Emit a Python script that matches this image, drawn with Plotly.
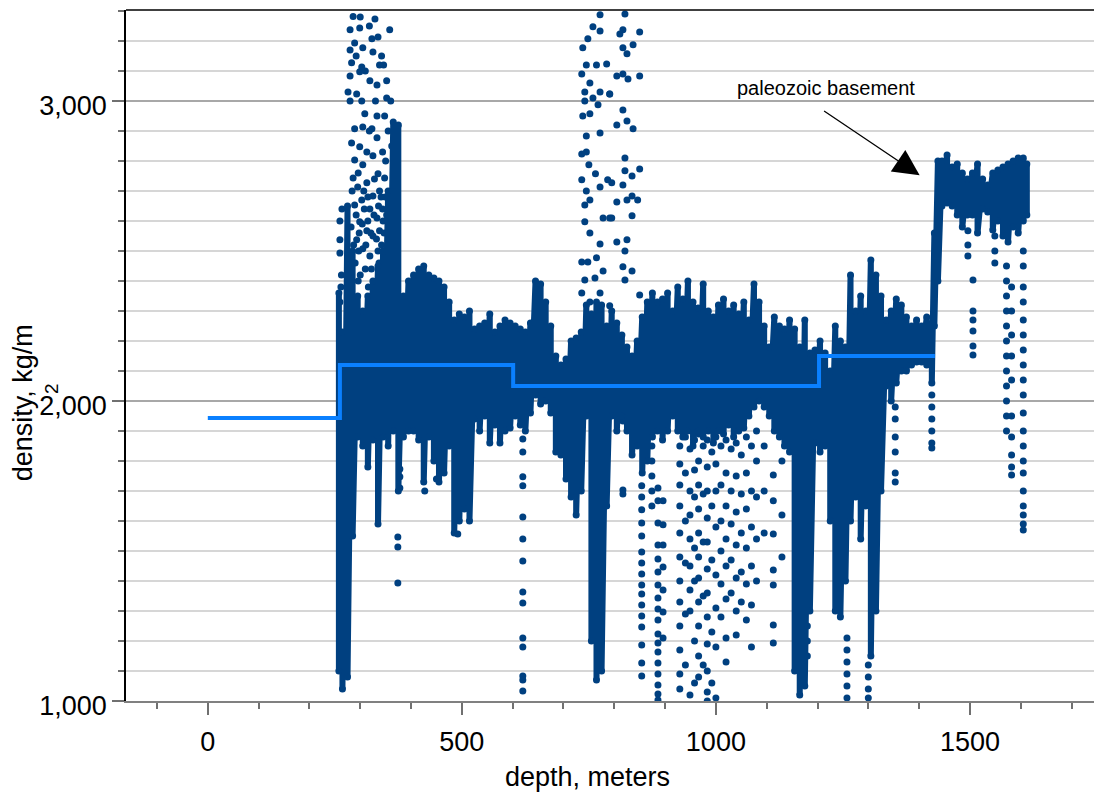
import plotly.graph_objects as go

# ---------------- data ----------------
# dense part of the density log: per depth, upper and lower edge of the dense cloud
core_depth = [258, 265, 275, 285, 295, 305, 315, 325, 335, 345, 355, 365, 375, 385, 395, 405, 415, 425,
              435, 445, 455, 465, 475, 485, 495, 505, 515, 525, 535, 545, 555, 565, 575, 585, 595, 605,
              615, 625, 635, 645, 655, 665, 675, 685, 695, 705, 715, 725, 735, 745, 755, 765, 775, 785,
              795, 805, 815, 825, 835, 845, 855, 865, 875, 885, 895, 905, 915, 925, 935, 945, 955, 965,
              975, 985, 995, 1005, 1015, 1025, 1035, 1045, 1055, 1065, 1075, 1085, 1095, 1105, 1115,
              1125, 1135, 1145, 1155, 1165, 1175, 1185, 1195, 1205, 1215, 1225, 1235, 1245, 1255, 1265,
              1275, 1285, 1295, 1305, 1315, 1325, 1335, 1345, 1355, 1365, 1375, 1385, 1395, 1405, 1415,
              1425, 1430, 1437, 1445, 1455, 1465, 1475, 1485, 1495, 1505, 1515, 1525, 1535, 1545, 1555,
              1565, 1575, 1585, 1595, 1605, 1612]
core_top = [2360, 2230, 2650, 2500, 2350, 2300, 2350, 2400, 2450, 2500, 2700, 2930, 2920, 2350, 2400, 2420,
            2440, 2450, 2420, 2410, 2400, 2380, 2330, 2270, 2290, 2280, 2300, 2240, 2250, 2260, 2290, 2230,
            2250, 2270, 2260, 2250, 2240, 2230, 2260, 2400, 2390, 2330, 2250, 2150, 2120, 2140, 2200, 2210,
            2230, 2320, 2290, 2330, 2320, 2250, 2300, 2260, 2220, 2180, 2150, 2200, 2280, 2330, 2360, 2330,
            2340, 2360, 2300, 2380, 2340, 2400, 2330, 2310, 2390, 2300, 2280, 2320, 2340, 2300, 2320, 2290,
            2330, 2270, 2390, 2330, 2250, 2180, 2280, 2250, 2240, 2270, 2240, 2180, 2270, 2160, 2170, 2200,
            2160, 2100, 2250, 2200, 2180, 2420, 2300, 2350, 2300, 2470, 2420, 2350, 2270, 2300, 2340, 2320,
            2280, 2250, 2270, 2250, 2280, 2260, 2560, 2800, 2800, 2820, 2780, 2790, 2760, 2740, 2760, 2790,
            2740, 2720, 2760, 2770, 2780, 2790, 2800, 2810, 2810, 2790]
core_bottom = [1100, 1040, 1080, 1550, 1880, 1850, 1780, 1870, 1590, 1880, 1850, 1900, 1700, 1880, 1900,
               1900, 1870, 1730, 1880, 1800, 1730, 1760, 1850, 1560, 1600, 1640, 1600, 1940, 1900, 1950,
               1860, 1920, 1860, 1900, 1910, 1950, 1920, 1900, 1960, 2020, 1990, 2000, 1960, 1830, 1820,
               1740, 1680, 1620, 1700, 1950, 1200, 1070, 1100, 1650, 1950, 1900, 1950, 1900, 1820, 1850,
               1760, 1800, 1880, 1900, 1870, 1900, 1950, 1900, 1880, 1900, 1850, 1900, 1880, 1900, 1860,
               1900, 1890, 1920, 1880, 1900, 1910, 1950, 1980, 2000, 1980, 1950, 1900, 1880, 1850, 1830,
               1100, 1020, 1050, 1300, 1860, 1830, 1850, 1600, 1300, 1280, 1400, 1600, 1680, 1540, 1650,
               1150, 1300, 1700, 2050, 2000, 2060, 2100, 2100, 2120, 2130, 2130, 2120, 2060, 2250, 2400,
               2650, 2660, 2650, 2620, 2580, 2620, 2620, 2560, 2640, 2630, 2570, 2600, 2550, 2530, 2580,
               2560, 2600, 2620]

# isolated readings (depth, density)
scattered_points = [
    (286, 3281), (280, 3237), (329, 3273), (358, 3237), (299, 3243), (323, 3207), (335, 3213),
    (280, 3170), (289, 3193), (305, 3177), (325, 3163), (342, 3150), (283, 3127), (303, 3113),
    (338, 3120), (280, 3083), (299, 3097), (319, 3067), (352, 3067), (276, 3030), (293, 3023),
    (333, 3053), (352, 3010), (303, 3000), (280, 3000), (309, 2957), (333, 2950), (348, 2950),
    (289, 2907), (305, 2913), (323, 2907), (333, 2877), (283, 2860), (299, 2847), (313, 2830),
    (325, 2817), (344, 2830), (289, 2803), (305, 2787), (335, 2757), (348, 2743), (286, 2743),
    (295, 2713), (313, 2727), (325, 2683), (338, 2700), (303, 2670), (289, 2653), (319, 2640),
    (344, 2640), (333, 2610), (299, 2597), (313, 2567), (325, 2550), (338, 2567), (293, 2537),
    (305, 2507), (319, 2483), (335, 2500), (264, 2640), (260, 2600), (260, 2537), (260, 2493),
    (263, 2420), (262, 2380), (260, 2330), (290, 2460), (300, 2420), (310, 2440), (330, 2380),
    (345, 2600), (350, 2800), (355, 2900), (360, 3000), (362, 2850), (368, 2700), (350, 2450),
    (340, 2420), (316, 2380), (296, 2400), (308, 2640), (296, 2760), (318, 2900), (330, 3000),
    (310, 3100), (292, 3150), (300, 3280), (318, 3250), (346, 3120),
    (282, 2580), (287, 2520), (292, 2620), (298, 2560), (304, 2590), (311, 2520), (315, 2600),
    (321, 2560), (327, 2620), (332, 2540), (337, 2460), (342, 2520), (347, 2560), (352, 2620),
    (284, 2700), (307, 2700), (328, 2740), (341, 2680), (315, 2680), (297, 2500), (322, 2440),
    (336, 2650), (349, 2680), (357, 2580), (361, 2500), (366, 2620), (370, 2560),
    (374, 1547), (374, 1513), (374, 1393), (378, 1773), (378, 1747), (378, 1710), (427, 1700),
    (450, 1807), (450, 1740), (492, 1557),
    (772, 3287), (758, 3247), (772, 3233), (748, 3207), (738, 3177), (745, 3120), (765, 3120),
    (785, 3123), (736, 3090), (752, 3060), (742, 3030), (772, 3030), (791, 3023), (742, 3000),
    (758, 3010), (768, 2987), (752, 2957), (738, 2950), (772, 2893), (745, 2883), (736, 2823),
    (745, 2830), (750, 2787), (763, 2757), (736, 2737), (772, 2713), (787, 2737), (745, 2700),
    (742, 2653), (752, 2670), (778, 2610), (791, 2610), (742, 2597), (752, 2560), (772, 2523),
    (736, 2463), (748, 2463), (765, 2477), (778, 2433), (742, 2403), (762, 2410), (736, 2360),
    (752, 2330), (772, 2360), (791, 2317),
    (821, 3290), (817, 3237), (850, 3230), (811, 3223), (837, 3187), (817, 3177), (825, 3157),
    (805, 3083), (817, 3090), (827, 3073), (850, 3083), (817, 2970), (805, 2920), (825, 2933),
    (837, 2907), (821, 2810), (850, 2773), (821, 2767), (835, 2750), (817, 2720), (805, 2663),
    (825, 2670), (846, 2670), (835, 2683), (835, 2617), (805, 2530), (825, 2537), (821, 2500),
    (817, 2447), (835, 2433), (821, 2403), (850, 2353), (795, 2610), (795, 2727), (791, 3023),
]

# sparse vertical streaks of readings: (depth, [densities])
sparse_streaks = [
    (620, [1873, 1830, 1747, 1717, 1613, 1540, 1467, 1363, 1327, 1210, 1180, 1083, 1070, 1033]),
    (817, [1933, 1703, 1690]),
    (854, [1717, 1680, 1637, 1593, 1550, 1497, 1460, 1423, 1387, 1357, 1320, 1283, 1247, 1187, 1127, 1083]),
    (874, [1850, 1800, 1750, 1700, 1650]),
    (886, [1710, 1667, 1593, 1520, 1473, 1430, 1387, 1343, 1307, 1270, 1223, 1193, 1163, 1127, 1090,
           1053, 1023, 1003]),
    (896, [1667, 1587, 1520, 1447, 1370, 1297, 1210]),
    (929, [1850, 1790, 1720, 1650, 1560, 1480, 1400, 1330, 1250, 1170, 1090, 1040]),
    (940, [1880, 1760, 1600, 1460, 1290, 1120]),
    (949, [1840, 1700, 1620, 1540, 1450, 1370, 1300, 1020]),
    (958, [1870, 1770, 1680, 1510, 1400, 1200, 1060]),
    (966, [1890, 1800, 1720, 1640, 1560, 1480, 1410, 1330, 1250, 1150, 1080]),
    (975, [1850, 1690, 1530, 1350, 1120]),
    (983, [1870, 1780, 1700, 1610, 1530, 1440, 1360, 1280, 1190, 1100, 1030, 1000]),
    (992, [1830, 1650, 1470, 1230, 1060]),
    (1000, [1880, 1790, 1700, 1580, 1420, 1310, 1180, 1010]),
    (1010, [1850, 1720, 1600, 1500, 1390, 1280]),
    (1020, [1870, 1760, 1650, 1540, 1450, 1340, 1210, 1130]),
    (1030, [1840, 1700, 1590, 1470, 1360]),
    (1040, [1860, 1750, 1630, 1520, 1410, 1300, 1220]),
    (1050, [1820, 1690, 1560, 1430, 1330]),
    (1060, [1880, 1760, 1640, 1510, 1390, 1270]),
    (1070, [1850, 1700, 1580, 1450, 1320, 1180]),
    (1080, [1900, 1800, 1680, 1540, 1400]),
    (1095, [1850, 1700, 1560]),
    (1113, [1753, 1667, 1557, 1437, 1387, 1253, 1193]),
    (1130, [1800, 1620, 1480]),
    (1180, [1250, 1200, 1150]),
    (1258, [1210, 1170, 1130, 1090, 1050, 1010]),
    (1300, [1120, 1080, 1040, 1010]),
    (1353, [1980, 1940, 1880, 1830, 1760, 1730]),
    (1425, [2020, 1980, 1940, 1900, 1860, 1843]),
    (1496, [2567, 2520, 2483]),
    (1506, [2403, 2300, 2270, 2233, 2183, 2153]),
    (1549, [2550, 2500, 2460]),
    (1572, [2450, 2400, 2350, 2300, 2250, 2200, 2150, 2100, 2050, 2000, 1950, 1900]),
    (1582, [2380, 2300, 2220, 2150, 2070, 1950, 1880, 1820, 1780, 1753]),
    (1605, [2500, 2450, 2380, 2330, 2270, 2220, 2170, 2120, 2070, 2020, 1960, 1900, 1850, 1800, 1760,
            1700, 1650, 1620, 1590, 1570]),
]

# layered density model (step line)
step_depth = [0, 260, 601, 1203, 1431]
step_density = [1943, 2120, 2050, 2150, 2150]

annotation_text = "paleozoic basement"
x_title = "depth, meters"
y_title = "density, kg/m"

# ---------------- figure ----------------
DOT = "#004080"
STEP = "#0a80ff"

zz_x, zz_y = [], []
for d, t, b in zip(core_depth, core_top, core_bottom):
    zz_x += [d, d]
    zz_y += [t, b]

sx = [p[0] for p in scattered_points]
sy = [p[1] for p in scattered_points]
for d, vals in sparse_streaks:
    for v in vals:
        sx.append(d)
        sy.append(v)

fig = go.Figure()
fig.add_trace(go.Scatter(x=sx, y=sy, mode="markers",
                         marker=dict(color=DOT, size=7, line=dict(width=0)),
                         hoverinfo="skip", showlegend=False))
fig.add_trace(go.Scatter(x=zz_x, y=zz_y, mode="lines+markers",
                         line=dict(color=DOT, width=6),
                         marker=dict(color=DOT, size=7, line=dict(width=0)),
                         hoverinfo="skip", showlegend=False))
fig.add_trace(go.Scatter(x=step_depth, y=step_density, mode="lines",
                         line=dict(color=STEP, width=4, shape="hv"),
                         hoverinfo="skip", showlegend=False))

FONT = "Liberation Sans, Arial, sans-serif"

# the page body adds an 8px margin, so the figure is 8px smaller in each direction
fig.update_layout(
    width=1094, height=786,
    margin=dict(l=118, r=2, t=2, b=93),
    paper_bgcolor="white", plot_bgcolor="white",
    font=dict(family=FONT, size=27, color="black"),
    showlegend=False,
)
fig.update_xaxes(
    range=[-161, 1756], showgrid=False, zeroline=False,
    showline=True, linecolor="#808080", linewidth=2,
    tickmode="linear", tick0=0, dtick=500,
    ticks="outside", ticklen=12, tickwidth=1.5, tickcolor="#707070",
    tickfont=dict(size=27, family=FONT), ticklabelstandoff=4,
    minor=dict(dtick=100, ticks="outside", ticklen=6, tickwidth=1.5, tickcolor="#707070", showgrid=False),
)
fig.update_yaxes(
    range=[1000, 3303], zeroline=False,
    showline=True, linecolor="black", linewidth=1.5,
    tickmode="linear", tick0=1000, dtick=1000, tickformat=",",
    showgrid=True, gridcolor="#a8a8a8", gridwidth=1.5,
    ticks="outside", ticklen=12, tickwidth=1.5, tickcolor="#707070",
    tickfont=dict(size=27, family=FONT), ticklabelshift=5,
    minor=dict(dtick=100, ticks="outside", ticklen=6, tickwidth=1.5, tickcolor="#707070",
               showgrid=True, gridcolor="#d6d6d6", gridwidth=1.5),
)

# top frame line
fig.add_shape(type="line", xref="paper", yref="paper", x0=0, x1=1, y0=1, y1=1,
              line=dict(color="black", width=1.5))

# axis titles (placed as in the reference)
fig.add_annotation(text=x_title, xref="paper", yref="paper", x=0.474, y=-0.110,
                   xanchor="center", yanchor="middle",
                   showarrow=False, font=dict(size=27, family=FONT))
fig.add_annotation(text=y_title, xref="paper", yref="paper", x=-0.1057, y=0.431,
                   xanchor="center", yanchor="middle",
                   textangle=-90, showarrow=False, font=dict(size=27, family=FONT))
fig.add_annotation(text="2", xref="paper", yref="paper", x=-0.076, y=0.453,
                   xanchor="center", yanchor="middle",
                   textangle=-90, showarrow=False, font=dict(size=19, family=FONT))

# arrow and label
fig.add_annotation(x=1401, y=2752, ax=1210, ay=2970, xref="x", yref="y", axref="x", ayref="y",
                   text="", showarrow=True, arrowhead=2, arrowsize=4, arrowwidth=1.3,
                   arrowcolor="black", standoff=0)
fig.add_annotation(x=1217, y=3043, xref="x", yref="y", text=annotation_text, showarrow=False,
                   xanchor="center", yanchor="middle",
                   font=dict(size=20, family=FONT, color="black"))

fig.write_html("out.html")
